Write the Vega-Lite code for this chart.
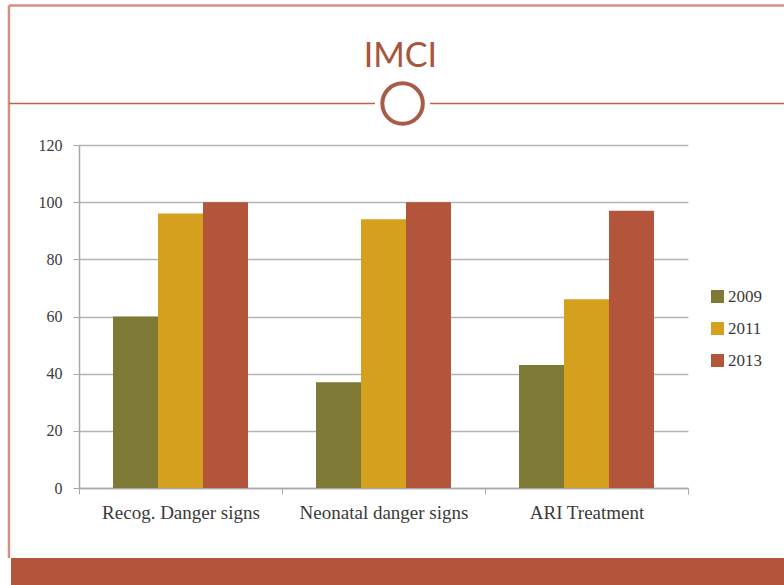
{
  "$schema": "https://vega.github.io/schema/vega-lite/v6.json",
  "width": 609,
  "height": 343,
  "autosize": {"type": "none"},
  "padding": {"left": 79, "top": 145, "right": 96, "bottom": 97},
  "background": "#ffffff",
  "config": {
    "view": {"stroke": null},
    "axis": {
      "domainColor": "#A8A8A8",
      "tickColor": "#A8A8A8",
      "gridColor": "#B4B4B4",
      "labelFont": "Liberation Serif",
      "labelColor": "#3A3A3A",
      "titleFont": "Liberation Serif"
    },
    "legend": {"labelFont": "Liberation Serif"}
  },
  "datasets": {
    "bars": [
      {"indicator": "Recog. Danger signs", "year": "2009", "value": 60},
      {"indicator": "Recog. Danger signs", "year": "2011", "value": 96},
      {"indicator": "Recog. Danger signs", "year": "2013", "value": 100},
      {"indicator": "Neonatal danger signs", "year": "2009", "value": 37},
      {"indicator": "Neonatal danger signs", "year": "2011", "value": 94},
      {"indicator": "Neonatal danger signs", "year": "2013", "value": 100},
      {"indicator": "ARI Treatment", "year": "2009", "value": 43},
      {"indicator": "ARI Treatment", "year": "2011", "value": 66},
      {"indicator": "ARI Treatment", "year": "2013", "value": 97}
    ],
    "frameLines": [
      {"part": "top", "x1": -0.345, "x2": 3.6, "y1": 168.8, "y2": 168.8},
      {"part": "left", "x1": -0.345, "x2": -0.345, "y1": 168.8, "y2": -24.5}
    ],
    "dividerLines": [
      {"part": "left", "x1": -0.345, "x2": 1.458, "y1": 134.5, "y2": 134.5},
      {"part": "right", "x1": 1.729, "x2": 3.6, "y1": 134.5, "y2": 134.5}
    ],
    "band": [
      {"x1": -0.335, "x2": 3.6, "y1": -24.5, "y2": -40}
    ],
    "ornament": [
      {"x": 1.594, "y": 134.5}
    ],
    "heading": [
      {"label": "IMCI", "x": 1.583, "y": 147.3}
    ]
  },
  "layer": [
    {
      "data": {"name": "bars"},
      "mark": {"type": "bar"},
      "encoding": {
        "x": {
          "field": "indicator",
          "type": "nominal",
          "sort": ["Recog. Danger signs", "Neonatal danger signs", "ARI Treatment"],
          "scale": {"paddingInner": 0, "paddingOuter": 0},
          "axis": {
            "title": null,
            "labelAngle": 0,
            "labelFontSize": 19,
            "labelPadding": 9,
            "tickBand": "extent",
            "tickSize": 6,
            "domainWidth": 1.5
          }
        },
        "xOffset": {
          "field": "year",
          "type": "nominal",
          "sort": ["2009", "2011", "2013"],
          "scale": {"paddingInner": 0, "paddingOuter": 0.756}
        },
        "y": {
          "field": "value",
          "type": "quantitative",
          "scale": {"domain": [0, 120], "nice": false},
          "axis": {
            "title": null,
            "values": [0, 20, 40, 60, 80, 100, 120],
            "labelFontSize": 16,
            "labelPadding": 11,
            "tickSize": 6,
            "gridWidth": 1.5,
            "domainWidth": 1.5
          }
        },
        "color": {
          "field": "year",
          "type": "nominal",
          "scale": {"domain": ["2009", "2011", "2013"], "range": ["#7E7935", "#D4A01E", "#B3553A"]},
          "legend": {
            "title": null,
            "orient": "none",
            "legendX": 630,
            "legendY": 143,
            "symbolType": "square",
            "symbolSize": 170,
            "symbolStrokeWidth": 0,
            "labelFontSize": 17,
            "labelColor": "#3A3A3A",
            "labelOffset": 2,
            "rowPadding": 14
          }
        }
      }
    },
    {
      "data": {"name": "band"},
      "mark": {"type": "rect", "clip": false, "color": "#B3553A"},
      "encoding": {
        "x": {"field": "x1", "type": "quantitative", "scale": {"domain": [0, 3], "nice": false, "zero": false}, "axis": null},
        "x2": {"field": "x2"},
        "y": {"field": "y1", "type": "quantitative", "scale": {"domain": [0, 120], "nice": false, "zero": false}, "axis": null},
        "y2": {"field": "y2"}
      }
    },
    {
      "data": {"name": "frameLines"},
      "mark": {"type": "rule", "clip": false, "color": "#CC7E6C", "strokeWidth": 2.5, "opacity": 0.85},
      "encoding": {
        "x": {"field": "x1", "type": "quantitative", "scale": {"domain": [0, 3], "nice": false, "zero": false}, "axis": null},
        "x2": {"field": "x2"},
        "y": {"field": "y1", "type": "quantitative", "scale": {"domain": [0, 120], "nice": false, "zero": false}, "axis": null},
        "y2": {"field": "y2"}
      }
    },
    {
      "data": {"name": "dividerLines"},
      "mark": {"type": "rule", "clip": false, "color": "#BC6448", "strokeWidth": 1.5},
      "encoding": {
        "x": {"field": "x1", "type": "quantitative", "scale": {"domain": [0, 3], "nice": false, "zero": false}, "axis": null},
        "x2": {"field": "x2"},
        "y": {"field": "y1", "type": "quantitative", "scale": {"domain": [0, 120], "nice": false, "zero": false}, "axis": null},
        "y2": {"field": "y2"}
      }
    },
    {
      "data": {"name": "ornament"},
      "mark": {"type": "point", "clip": false, "shape": "circle", "filled": false, "size": 1640, "stroke": "#A85B46", "strokeWidth": 4, "opacity": 1},
      "encoding": {
        "x": {"field": "x", "type": "quantitative", "scale": {"domain": [0, 3], "nice": false, "zero": false}, "axis": null},
        "y": {"field": "y", "type": "quantitative", "scale": {"domain": [0, 120], "nice": false, "zero": false}, "axis": null}
      }
    },
    {
      "data": {"name": "heading"},
      "mark": {"type": "text", "clip": false, "font": "Lato", "fontSize": 34, "fontWeight": "normal", "color": "#A9553C", "align": "center", "baseline": "alphabetic"},
      "encoding": {
        "x": {"field": "x", "type": "quantitative", "scale": {"domain": [0, 3], "nice": false, "zero": false}, "axis": null},
        "y": {"field": "y", "type": "quantitative", "scale": {"domain": [0, 120], "nice": false, "zero": false}, "axis": null},
        "text": {"field": "label"}
      }
    }
  ],
  "resolve": {"scale": {"x": "independent", "y": "independent"}}
}
